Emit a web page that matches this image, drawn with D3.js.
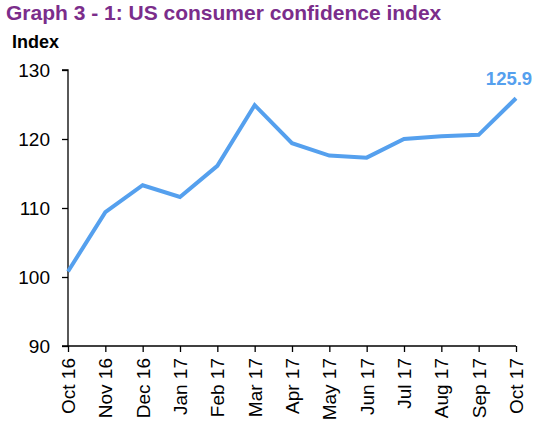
<!DOCTYPE html>
<html><head><meta charset="utf-8">
<script src="https://cdn.jsdelivr.net/npm/d3@7"></script>
<style>body{margin:0;background:#fff;}svg{display:block;}</style>
</head><body>
<script>
const months = ["Oct 16","Nov 16","Dec 16","Jan 17","Feb 17","Mar 17","Apr 17","May 17","Jun 17","Jul 17","Aug 17","Sep 17","Oct 17"];
const values = [100.8,109.4,113.3,111.6,116.1,124.9,119.4,117.6,117.3,120.0,120.4,120.6,125.9];
const yTicks = [90,100,110,120,130];
const title = "Graph 3 - 1: US consumer confidence index";
const yLabel = "Index";
const lastLabel = "125.9";

const W = 550, H = 427;
const svg = d3.select("body").append("svg").attr("width", W).attr("height", H);
const font = "Arial, 'Liberation Sans', sans-serif";

const x = d3.scalePoint().domain(months).range([68, 516]);
const y = d3.scaleLinear().domain([90,130]).range([346, 70]);

svg.append("text").attr("x", 6).attr("y", 20).text(title)
  .attr("font-family", font).attr("font-weight", "bold").attr("font-size", 21).attr("fill", "#7B2D8B");
svg.append("text").attr("x", 12).attr("y", 48).text(yLabel)
  .attr("font-family", font).attr("font-weight", "bold").attr("font-size", 18).attr("fill", "#000");

const yAxis = svg.append("g").attr("transform", "translate(68,0)")
  .call(d3.axisLeft(y).tickValues(yTicks).tickSize(6).tickPadding(12));
yAxis.select(".domain").attr("stroke", "#000").attr("stroke-width", 1.3).attr("d", "M-6,70H0V346H-6");
yAxis.selectAll("text").attr("font-family", font).attr("font-size", 19).attr("fill", "#000");

const xAxis = svg.append("g").attr("transform", "translate(0,346)")
  .call(d3.axisBottom(x).tickSize(6).tickPadding(6));
xAxis.select(".domain").attr("stroke", "#000").attr("stroke-width", 1.3).attr("d", "M68,0H516");
xAxis.selectAll("line").attr("stroke-width", 1.3);
yAxis.selectAll("line").attr("stroke-width", 1.3);
xAxis.selectAll("text").attr("font-family", font).attr("font-size", 19).attr("fill", "#000")
  .attr("text-anchor", "end").attr("dy", "0.35em")
  .attr("transform", "translate(0,12) rotate(-90)")
  .attr("x", 0).attr("y", 0);

const line = d3.line().x((d,i) => x(months[i])).y(d => y(d));
svg.append("path").datum(values).attr("d", line)
  .attr("fill", "none").attr("stroke", "#55A0EE").attr("stroke-width", 4)
  .attr("stroke-linejoin", "miter");

svg.append("text").attr("x", x(months[months.length-1]) - 7).attr("y", y(values[values.length-1]) - 13)
  .attr("text-anchor", "middle").text(lastLabel)
  .attr("font-family", font).attr("font-weight", "bold").attr("font-size", 18.5).attr("fill", "#55A0EE");
</script>
</body></html>
